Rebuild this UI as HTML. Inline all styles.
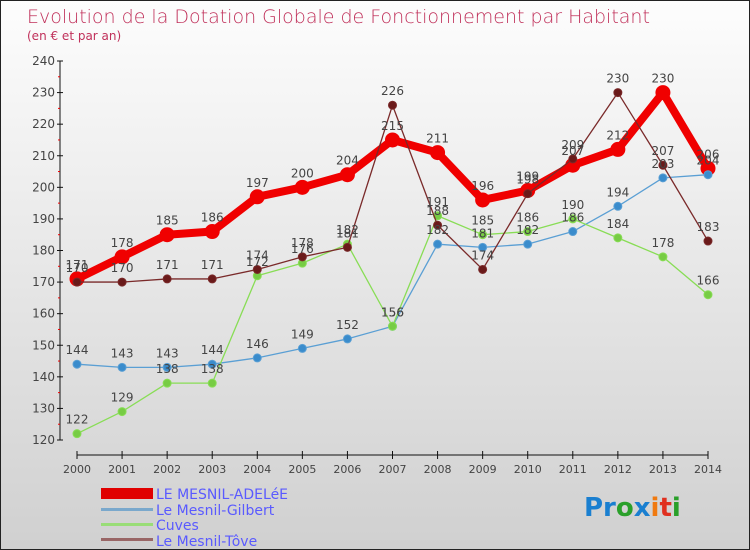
<!DOCTYPE html>
<html><head><meta charset="utf-8"><style>
body{margin:0}
#wrap{width:748px;height:548px;border:1px solid #222;background:linear-gradient(#fdfdfd,#d0d0d0);position:relative;font-family:"DejaVu Sans","Liberation Sans",sans-serif;overflow:hidden}
</style></head><body>
<div id="wrap">
<svg id="chart" width="748" height="548">
<text x="26" y="22" font-size="19" fill="#c0305a" font-weight="300">Evolution de la Dotation Globale de Fonctionnement par Habitant</text>
<text x="26" y="39" font-size="12" fill="#c0305a">(en € et par an)</text>
<g id="axes"></g><g id="series"></g><g id="labels"></g>
<g>
<rect x="100" y="487" width="52" height="11" fill="#e00000"/>
<text x="155" y="498" font-size="14" fill="#5a5aff">LE MESNIL-ADELéE</text>
<rect x="100" y="507" width="52" height="3" fill="#7aa8cc"/>
<text x="155" y="514" font-size="14" fill="#5a5aff">Le Mesnil-Gilbert</text>
<rect x="100" y="522" width="52" height="3" fill="#99dd77"/>
<text x="155" y="529" font-size="14" fill="#5a5aff">Cuves</text>
<rect x="100" y="537" width="52" height="3" fill="#996666"/>
<text x="155" y="545" font-size="14" fill="#5a5aff">Le Mesnil-Tôve</text>
</g>
<g font-size="26" font-weight="bold">
<text x="583" y="515"><tspan fill="#1a7fd0">Pr</tspan><tspan fill="#2aa02a">o</tspan><tspan fill="#1a7fd0">x</tspan><tspan fill="#f07a10">i</tspan><tspan fill="#e03020">t</tspan><tspan fill="#2aa02a">i</tspan></text>
</g>
</svg>
</div>
<script>
const years=[2000,2001,2002,2003,2004,2005,2006,2007,2008,2009,2010,2011,2012,2013,2014];
const adelee=[171,178,185,186,197,200,204,215,211,196,199,207,212,230,206];
const gilbert=[144,143,143,144,146,149,152,156,182,181,182,186,194,203,204];
const cuves=[122,129,138,138,172,176,182,156,191,185,186,190,184,178,166];
const tove=[170,170,171,171,174,178,181,226,188,174,198,209,230,207,183];
const yTicks=[120,130,140,150,160,170,180,190,200,210,220,230,240];
const NS="http://www.w3.org/2000/svg";
const X=i=>76+i*(707-76)/14;
const Y=v=>439-(v-120)*(439-60)/120;
function mk(t,a,p){const e=document.createElementNS(NS,t);for(const k in a)e.setAttribute(k,a[k]);p.appendChild(e);return e;}
const axes=document.getElementById('axes'),ser=document.getElementById('series'),lab=document.getElementById('labels');
const ya=mk('line',{x1:59,y1:60,x2:59,y2:439,stroke:'#111'},axes);


const xa=mk('line',{x1:76,y1:454,x2:707,y2:454,stroke:'#111'},axes);


yTicks.forEach((v,i)=>{
 mk('line',{x1:56,y1:Y(v),x2:62,y2:Y(v),stroke:'#111'},axes);
 if(i<yTicks.length-1)mk('line',{x1:57,y1:Y(v+5),x2:59,y2:Y(v+5),stroke:'#e00'},axes);
 const t=mk('text',{x:54,y:Y(v)+4,'font-size':12,'text-anchor':'end',fill:'#444'},axes);t.textContent=v;
 
 
});
years.forEach((y,i)=>{
 mk('line',{x1:X(i),y1:450,x2:X(i),y2:458,stroke:'#111'},axes);
 const t=mk('text',{x:X(i),y:472,'font-size':11,'text-anchor':'middle',fill:'#444'},axes);t.textContent=y;
 
 
});
function draw(data,name,color,w,r,fill){
 const pl=mk('polyline',{points:data.map((v,i)=>X(i)+','+Y(v)).join(' '),fill:'none',stroke:color,'stroke-width':w,'stroke-linejoin':'round'},ser);
 
 
 data.forEach((v,i)=>{
  const c=mk('circle',{cx:X(i),cy:Y(v),r:r,fill:fill,stroke:color,'stroke-width':1},ser);
  
  
  const t=mk('text',{x:X(i),y:Y(v)-10,'font-size':12,'text-anchor':'middle',fill:'#444'},lab);t.textContent=v;
  
  
 });
}
draw(adelee,'adelee','#f00000',8,7,'#f00000');
draw(gilbert,'gilbert','#5a9fd4',1.3,4,'#3a8ccc');
draw(cuves,'cuves','#88dd55',1.3,4,'#77cc44');
draw(tove,'tove','#7a2a2a',1.3,4,'#6a1a1a');
</script>
</body></html>
